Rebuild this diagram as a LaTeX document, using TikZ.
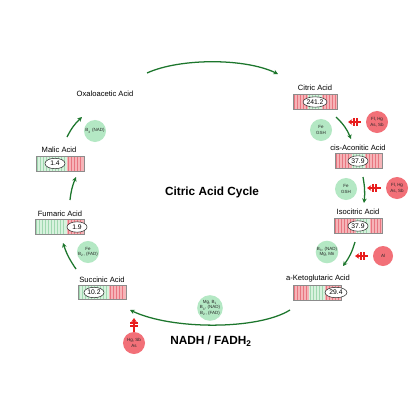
\documentclass[tikz,border=0pt]{standalone}
\usepackage{fontspec}
\setmainfont{Liberation Sans}
\usetikzlibrary{arrows.meta,shapes.geometric,calc}
\definecolor{pinkbase}{RGB}{246,180,184}
\definecolor{pinkstripe}{RGB}{232,118,128}
\definecolor{greenbase}{RGB}{216,242,222}
\definecolor{greenstripe}{RGB}{160,216,176}
\definecolor{cyclegreen}{RGB}{28,118,44}
\definecolor{inhred}{RGB}{232,28,28}
\definecolor{cofgreen}{RGB}{180,232,196}
\definecolor{inhcircle}{RGB}{242,112,120}
\newcommand\acidseg[6]{%
  \fill[#5] (#1,#3) rectangle (#2,#4);
  \pgfmathsetmacro\segw{#2-#1-1}
  \foreach \xx in {1.5,4.5,...,\segw} {\draw[#6,line width=0.55pt] ({#1+\xx},#3) -- ({#1+\xx},#4);}
}
\newcommand\hbars[1]{%
  \draw[inhred,line width=0.8pt] ($(#1)+(6,-3.8)$) -- ($(#1)+(6,3.8)$);
  \draw[inhred,line width=0.8pt] ($(#1)+(9,-3.8)$) -- ($(#1)+(9,3.8)$);
}
\tikzset{
  cyc/.style={draw=cyclegreen, line width=0.9pt, -{Stealth[length=3.2pt,width=3.2pt]}},
  inh/.style={draw=inhred, line width=0.8pt, -{Stealth[length=3pt,width=4pt]}, shorten <=0.12cm},
  cof/.style={circle, fill=cofgreen, minimum size=0.55cm, inner sep=0pt, align=center,
    font=\fontsize{3.2}{3.9}\selectfont, text=black!85},
  blk/.style={circle, fill=inhcircle, minimum size=0.55cm, inner sep=0pt, align=center,
    font=\fontsize{3.2}{3.9}\selectfont, text=black!85},
  lbl/.style={font=\fontsize{5.4}{6}\selectfont, inner sep=0pt},
  val/.style={ellipse, draw=black!80, fill=white, line width=0.4pt, minimum width=0.5cm,
    minimum height=0.26cm, inner sep=0pt, font=\fontsize{4.8}{5}\selectfont},
  boxf/.style={draw=black!45, line width=0.3pt, inner sep=0pt, minimum height=0.375cm},
  ttl/.style={font=\bfseries\fontsize{8.4}{10}\selectfont, inner sep=0pt}
}
\begin{document}
\begin{tikzpicture}[x=0.025cm,y=-0.025cm]
\useasboundingbox (0,0) rectangle (420,420);
\fill[white] (0,0) rectangle (420,420);

% ---------- titles ----------
\node[ttl] (title) at (212,192) {Citric Acid Cycle};
\node[ttl] (nadh) at (211,341) {NADH / FADH\textsubscript{2}};
\node[lbl] (oxa) at (105,94) {Oxaloacetic Acid};

% ---------- Citric Acid ----------
\acidseg{293}{308}{94}{109}{pinkbase}{pinkstripe}
\acidseg{308}{322}{94}{109}{greenbase}{greenstripe}
\acidseg{322}{337}{94}{109}{pinkbase}{pinkstripe}
\node[boxf, minimum width=1.1cm] (citric) at (315,101.5) {};
\node[val, minimum width=0.58cm] (citricv) at (315,102) {241.2};
\node[lbl] (citricl) at (315,88) {Citric Acid};

% ---------- cis-Aconitic Acid ----------
\acidseg{335}{352}{153}{168}{pinkbase}{pinkstripe}
\acidseg{352}{365}{153}{168}{greenbase}{greenstripe}
\acidseg{365}{382}{153}{168}{pinkbase}{pinkstripe}
\node[boxf, minimum width=1.175cm] (cis) at (358.5,160.5) {};
\node[val] (cisv) at (358,161) {37.9};
\node[lbl] (cisl) at (358,148) {cis-Aconitic Acid};

% ---------- Isocitric Acid ----------
\acidseg{334}{356}{218}{233}{pinkbase}{pinkstripe}
\acidseg{356}{370}{218}{233}{greenbase}{greenstripe}
\acidseg{370}{382}{218}{233}{pinkbase}{pinkstripe}
\node[boxf, minimum width=1.2cm] (iso) at (358,225.5) {};
\node[val] (isov) at (358,226) {37.9};
\node[lbl] (isol) at (358,212) {Isocitric Acid};

% ---------- a-Ketoglutaric Acid ----------
\acidseg{293}{309}{285}{300}{pinkbase}{pinkstripe}
\acidseg{309}{325}{285}{300}{greenbase}{greenstripe}
\acidseg{325}{341}{285}{300}{pinkbase}{pinkstripe}
\node[boxf, minimum width=1.2cm] (akg) at (317,292.5) {};
\node[val, minimum width=0.55cm] (akgv) at (336,292.5) {29.4};
\node[lbl] (akgl) at (318,279) {a-Ketoglutaric Acid};

% ---------- Succinic Acid ----------
\acidseg{78}{109}{285}{299}{greenbase}{greenstripe}
\acidseg{109}{126}{285}{299}{pinkbase}{pinkstripe}
\node[boxf, minimum width=1.2cm, minimum height=0.35cm] (succ) at (102,292) {};
\node[val] (succv) at (94,292.5) {10.2};
\node[lbl] (succl) at (102,280) {Succinic Acid};

% ---------- Fumaric Acid ----------
\acidseg{35}{67}{219}{234}{greenbase}{greenstripe}
\acidseg{67}{84}{219}{234}{pinkbase}{pinkstripe}
\node[boxf, minimum width=1.225cm] (fum) at (59.5,226.5) {};
\node[val] (fumv) at (77,227) {1.9};
\node[lbl] (fuml) at (60,214) {Fumaric Acid};

% ---------- Malic Acid ----------
\acidseg{36}{67}{156}{171}{greenbase}{greenstripe}
\acidseg{67}{84}{156}{171}{pinkbase}{pinkstripe}
\node[boxf, minimum width=1.2cm] (mal) at (60,163.5) {};
\node[val] (malv) at (55,163.5) {1.4};
\node[lbl] (mall) at (59,150) {Malic Acid};

% ---------- cofactor circles ----------
\node[cof] (g1) at (95,131) {B\textsubscript{3} (NAD)};
\node[cof] (g2) at (321,130) {Fe\\GSH};
\node[cof] (g3) at (346,189) {Fe\\GSH};
\node[cof] (g4) at (327,252) {B\textsubscript{3}, (NAD)\\Mg, Mn};
\node[cof, minimum size=0.6cm] (g5) at (210,308) {Mg, B\textsubscript{1}\\B\textsubscript{3}, (NAD)\\B\textsubscript{2}, (FAD)};
\node[cof] (g6) at (88,252) {Fe\\B\textsubscript{2}, (FAD)};

% ---------- inhibitor circles ----------
\node[blk] (r2) at (377,122) {Fl, Hg\\As, Sb};
\node[blk] (r3) at (397,188) {Fl, Hg\\As, Sb};
\node[blk, minimum size=0.5cm] (r4) at (383,256) {Al};
\node[blk] (r5) at (134,343) {Hg, Sb\\As};

% ---------- cycle arrows ----------
\coordinate (t1) at (147,73);
\coordinate (t2) at (278,74);
\draw[cyc] (t1) .. controls (180,58) and (245,58) .. (t2);
\coordinate (c1) at (336,117);
\coordinate (c2) at (351,139);
\draw[cyc] (c1) to[bend left=12] (c2);
\coordinate (d1) at (363,177);
\coordinate (d2) at (364,203);
\draw[cyc] (d1) to[bend left=8] (d2);
\coordinate (e1) at (355,242);
\coordinate (e2) at (343,266);
\draw[cyc] (e1) to[bend left=10] (e2);
\coordinate (b1) at (290,310);
\coordinate (b2) at (130,310);
\draw[cyc] (b1) .. controls (258,330) and (172,330) .. (b2);
\coordinate (s1) at (76,269);
\coordinate (s2) at (63,243);
\draw[cyc] (s1) to[bend left=8] (s2);
\coordinate (f1) at (70,200);
\coordinate (f2) at (76,177);
\draw[cyc] (f1) to[bend left=8] (f2);
\coordinate (m1) at (67,137);
\coordinate (m2) at (82,117);
\draw[cyc] (m1) to[bend left=10] (m2);

% ---------- inhibitor arrows ----------
\coordinate (i2) at (348,122);
\draw[inh] (r2) -- (i2);
\hbars{i2}
\coordinate (i3) at (367,188);
\draw[inh] (r3) -- (i3);
\hbars{i3}
\coordinate (i4) at (355,256);
\draw[inh] (r4) -- (i4);
\hbars{i4}
\coordinate (i5) at (134,318);
\draw[inh, shorten <=0pt] (r5) -- (i5);
\draw[inhred,line width=0.8pt] ($(i5)+(-3.8,5)$) -- ($(i5)+(3.8,5)$);
\draw[inhred,line width=0.8pt] ($(i5)+(-3.8,8)$) -- ($(i5)+(3.8,8)$);
\end{tikzpicture}
\end{document}
